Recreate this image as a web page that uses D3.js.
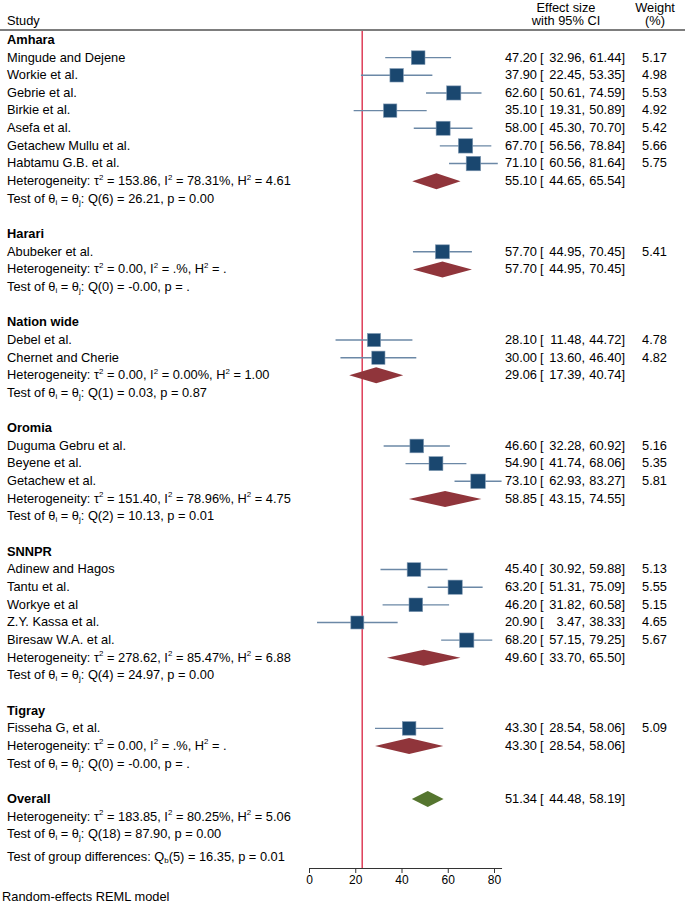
<!DOCTYPE html>
<html>
<head>
<meta charset="utf-8">
<script src="https://cdn.jsdelivr.net/npm/d3@7"></script>
<style>
  body { margin: 0; background: #fff; }
  text { font-family: "Liberation Sans", Arial, sans-serif; fill: #000; }
</style>
</head>
<body>
<svg id="chart" width="685" height="903"></svg>
<script>
// ---- data ----
const groups = ['Amhara', 'Harari', 'Nation wide', 'Oromia', 'SNNPR', 'Tigray'];

const studies = [
  'Mingude and Dejene', 'Workie et al.', 'Gebrie et al.', 'Birkie et al.', 'Asefa et al.',
  'Getachew Mullu et al.', 'Habtamu G.B. et al.',
  'Abubeker et al.',
  'Debel et al.', 'Chernet and Cherie',
  'Duguma Gebru et al.', 'Beyene et al.', 'Getachew et al.',
  'Adinew and Hagos', 'Tantu et al.', 'Workye et al', 'Z.Y. Kassa et al.', 'Biresaw W.A. et al.',
  'Fisseha G, et al.'
];
const studyGroup = [0, 0, 0, 0, 0, 0, 0, 1, 2, 2, 3, 3, 3, 4, 4, 4, 4, 4, 5];
const estimates  = [47.20, 37.90, 62.60, 35.10, 58.00, 67.70, 71.10, 57.70, 28.10, 30.00, 46.60, 54.90, 73.10, 45.40, 63.20, 46.20, 20.90, 68.20, 43.30];
const lower      = [32.96, 22.45, 50.61, 19.31, 45.30, 56.56, 60.56, 44.95, 11.48, 13.60, 32.28, 41.74, 62.93, 30.92, 51.31, 31.82, 3.47, 57.15, 28.54];
const upper      = [61.44, 53.35, 74.59, 50.89, 70.70, 78.84, 81.64, 70.45, 44.72, 46.40, 60.92, 68.06, 83.27, 59.88, 75.09, 60.58, 38.33, 79.25, 58.06];
const weights    = [5.17, 4.98, 5.53, 4.92, 5.42, 5.66, 5.75, 5.41, 4.78, 4.82, 5.16, 5.35, 5.81, 5.13, 5.55, 5.15, 4.65, 5.67, 5.09];

// subgroup pooled estimates
const groupEst = [55.10, 57.70, 29.06, 58.85, 49.60, 43.30];
const groupLow = [44.65, 44.95, 17.39, 43.15, 33.70, 28.54];
const groupUp  = [65.54, 70.45, 40.74, 74.55, 65.50, 58.06];
const groupTau2 = ['153.86', '0.00', '0.00', '151.40', '278.62', '0.00'];
const groupI2   = ['78.31', '.', '0.00', '78.96', '85.47', '.'];
const groupH2   = ['4.61', '.', '1.00', '4.75', '6.88', '.'];
const groupQdf  = [6, 0, 1, 2, 4, 0];
const groupQ    = ['26.21', '-0.00', '0.03', '10.13', '24.97', '-0.00'];
const groupP    = ['0.00', '.', '0.87', '0.01', '0.00', '.'];

// overall
const overallEst = 51.34, overallLow = 44.48, overallUp = 58.19;
const overallStats = ['183.85', '80.25', '5.06'];      // tau2, I2, H2
const overallTest  = [18, '87.90', '0.00'];            // df, Q, p
const groupDiff    = [5, '16.35', '0.01'];             // df, Qb, p

const refLine = 23;
const ticks = [0, 20, 40, 60, 80];

// ---- layout ----
const svg = d3.select('#chart');
const SX = 1.07;           // reference text is slightly wide
const FS = 12;

const x = d3.scaleLinear().domain([0, 80]).range([309, 494]);
const axisMax = d3.max(upper);
const xAxisScale = x.copy().domain([0, axisMax]).range([x(0), x(axisMax)]);
const rowY = d3.scaleLinear().domain([0, 43]).range([40, 799]);
const size = d3.scaleSqrt().domain([0, d3.max(weights)]).range([0, 14.5]);
const axisY = 868;
const f2 = v => v.toFixed(2);

// text helper with ^sup and _sub markup
function txt(str, tx, ty, anchor, bold, fs) {
  fs = fs || FS;
  const t = svg.append('text')
      .attr('transform', 'translate(' + tx + ',' + ty + ') scale(' + SX + ',1)')
      .attr('text-anchor', anchor || 'start')
      .attr('dominant-baseline', 'central')
      .style('font-size', fs + 'px')
      .style('font-weight', bold ? 'bold' : 'normal');
  const parts = str.split(/([\^_]\w)/);
  let shift = 0;
  parts.forEach(p => {
    if (!p) return;
    if (p[0] === '^' || p[0] === '_') {
      const d = p[0] === '^' ? -4.5 : 3;
      t.append('tspan').attr('dy', d - shift).style('font-size', (fs * 0.62) + 'px').text(p[1]);
      shift = d;
    } else {
      t.append('tspan').attr('dy', -shift).text(p);
      shift = 0;
    }
  });
  return t;
}

function effectText(est, lo, hi, ty) {
  txt(f2(est), 537, ty, 'end');
  txt('[', 540, ty, 'start');
  txt(f2(lo) + ',', 585, ty, 'end');
  txt(f2(hi) + ']', 625, ty, 'end');
}

function diamond(est, lo, hi, ty, color) {
  const h = 8;
  svg.append('path')
    .attr('d', d3.line()([[x(lo), ty], [x(est), ty - h], [x(hi), ty], [x(est), ty + h]]) + 'Z')
    .attr('fill', color);
}

// header
txt('Effect size', 566, 8, 'middle');
txt('with 95% CI', 566, 21, 'middle');
txt('Weight', 655, 8, 'middle');
txt('(%)', 655, 21, 'middle');
txt('Study', 7, 21, 'start');
svg.append('line').attr('x1', 0).attr('x2', 685).attr('y1', 30).attr('y2', 30)
  .attr('stroke', '#7d7d7d').attr('stroke-width', 1.8);

// build row list
const rows = [];
let r = 0;
groups.forEach((g, gi) => {
  rows.push({ type: 'group', r: r++, gi });
  studies.forEach((s, i) => { if (studyGroup[i] === gi) rows.push({ type: 'study', r: r++, i }); });
  rows.push({ type: 'het', r: r++, gi });
  rows.push({ type: 'test', r: r++, gi });
  r++;
});
const overallRow = r;

// reference line
svg.append('line')
  .attr('x1', x(refLine)).attr('x2', x(refLine))
  .attr('y1', 31).attr('y2', axisY)
  .attr('stroke', '#d9213f').attr('stroke-width', 1.3);

rows.forEach(d => {
  const ty = rowY(d.r);
  if (d.type === 'group') {
    txt(groups[d.gi], 7, ty, 'start', true);
  } else if (d.type === 'study') {
    const i = d.i;
    txt(studies[i], 7, ty, 'start');
    svg.append('line')
      .attr('x1', x(lower[i])).attr('x2', x(upper[i]))
      .attr('y1', ty).attr('y2', ty)
      .attr('stroke', '#6b88a6').attr('stroke-width', 1.4);
    const s = size(weights[i]);
    svg.append('rect')
      .attr('x', x(estimates[i]) - s / 2).attr('y', ty - s / 2)
      .attr('width', s).attr('height', s)
      .attr('fill', '#1a476f').attr('stroke', '#7f98b2').attr('stroke-width', 0.6);
    effectText(estimates[i], lower[i], upper[i], ty);
    txt(f2(weights[i]), 667, ty, 'end');
  } else if (d.type === 'het') {
    const gi = d.gi;
    txt('Heterogeneity: \u03c4^2 = ' + groupTau2[gi] + ', I^2 = ' + groupI2[gi] + '%, H^2 = ' + groupH2[gi], 7, ty, 'start');
    diamond(groupEst[gi], groupLow[gi], groupUp[gi], ty, '#90353b');
    effectText(groupEst[gi], groupLow[gi], groupUp[gi], ty);
  } else if (d.type === 'test') {
    const gi = d.gi;
    txt('Test of \u03b8_i = \u03b8_j: Q(' + groupQdf[gi] + ') = ' + groupQ[gi] + ', p = ' + groupP[gi], 7, ty, 'start');
  }
});

// overall block
txt('Overall', 7, rowY(overallRow), 'start', true);
diamond(overallEst, overallLow, overallUp, rowY(overallRow), '#55752f');
effectText(overallEst, overallLow, overallUp, rowY(overallRow));
txt('Heterogeneity: \u03c4^2 = ' + overallStats[0] + ', I^2 = ' + overallStats[1] + '%, H^2 = ' + overallStats[2], 7, rowY(overallRow + 1), 'start');
txt('Test of \u03b8_i = \u03b8_j: Q(' + overallTest[0] + ') = ' + overallTest[1] + ', p = ' + overallTest[2], 7, rowY(overallRow + 2), 'start');
txt('Test of group differences: Q_b(' + groupDiff[0] + ') = ' + groupDiff[1] + ', p = ' + groupDiff[2], 7, rowY(overallRow + 3.3), 'start');

// axis
const axis = svg.append('g')
  .attr('transform', 'translate(0,' + axisY + ')')
  .call(d3.axisBottom(xAxisScale).tickValues(ticks).tickSize(5).tickSizeOuter(0).tickFormat(d3.format('d')));
axis.select('.domain').attr('stroke', '#333');
axis.selectAll('.tick line').attr('stroke', '#333');
axis.selectAll('.tick text')
  .style('font-size', FS + 'px')
  .attr('font-family', null)
  .attr('fill', '#000')
  .attr('y', 7);

txt('Random-effects REML model', 2, 897, 'start');
</script>
</body>
</html>
